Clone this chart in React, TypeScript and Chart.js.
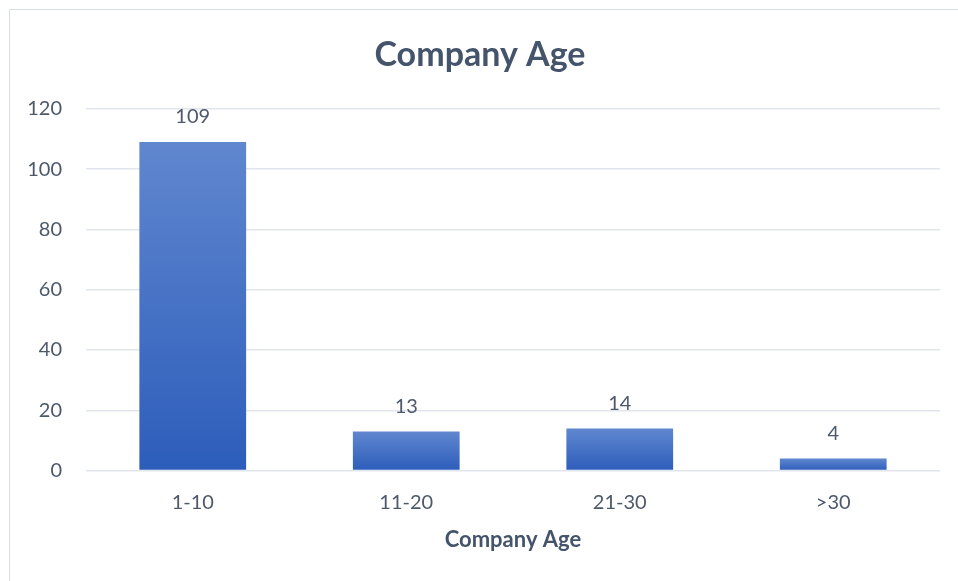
import React, { useEffect, useRef } from "react";
import { Chart, registerables } from "chart.js";

Chart.register(...registerables);

const categories = ["1-10", "11-20", "21-30", ">30"];
const counts = [109, 13, 14, 4];
const yTicks = [0, 20, 40, 60, 80, 100, 120];
const titleText = "Company Age";
const xTitleText = "Company Age";

const FONT = "Lato, 'Open Sans', sans-serif";
const TEXT = "#44546A";
const TICK = "#4D596B";

const dataLabels = {
  id: "dataLabels",
  afterDatasetsDraw(chart: any) {
    const ctx = chart.ctx;
    const meta = chart.getDatasetMeta(0);
    ctx.save();
    ctx.font = `20px ${FONT}`;
    ctx.fillStyle = TICK;
    ctx.textAlign = "center";
    ctx.textBaseline = "middle";
    meta.data.forEach((bar: any, i: number) => {
      ctx.fillText(String(counts[i]), bar.x, bar.y - 25);
    });
    ctx.restore();
  },
};

export default function App() {
  const ref = useRef<HTMLCanvasElement>(null);
  useEffect(() => {
    if (!ref.current) return;
    const chart = new Chart(ref.current, {
      type: "bar",
      data: {
        labels: categories,
        datasets: [
          {
            data: counts,
            barPercentage: 0.5,
            categoryPercentage: 1,
            backgroundColor: (c: any) => {
              const ch = c.chart;
              const ys = ch.scales && ch.scales.y;
              if (!ys || c.type !== "data") return "#4472C4";
              const top = ys.getPixelForValue(c.parsed ? c.parsed.y : counts[c.dataIndex]);
              const bottom = ys.getPixelForValue(0);
              if (!isFinite(top) || !isFinite(bottom) || top === bottom) return "#4472C4";
              const g = ch.ctx.createLinearGradient(0, top, 0, bottom);
              g.addColorStop(0, "#6087CF");
              g.addColorStop(1, "#2D5DBB");
              return g;
            },
          },
        ],
      },
      options: {
        animation: false,
        responsive: false,
        maintainAspectRatio: false,
        layout: { padding: { left: 20, right: 18, top: 10, bottom: 28 } },
        plugins: {
          legend: { display: false },
          tooltip: { enabled: false },
          title: {
            display: true,
            text: titleText,
            color: TEXT,
            font: { family: FONT, size: 34, weight: "bold" },
            padding: { top: 25, bottom: 33 },
          },
        },
        scales: {
          x: {
            grid: { display: false, drawTicks: false },
            border: { display: false },
            ticks: { color: TICK, font: { family: FONT, size: 20 }, padding: 20 },
            title: {
              display: true,
              text: xTitleText,
              color: TEXT,
              font: { family: FONT, size: 22, weight: "bold" },
              padding: { top: -8, bottom: 0 },
            },
          },
          y: {
            min: 0,
            max: 120,
            afterFit: (s: any) => {
              s.width = 66;
            },
            afterBuildTicks: (s: any) => {
              s.ticks = yTicks.map((v) => ({ value: v }));
            },
            grid: { color: "#E1E5EC", lineWidth: 1.5, drawTicks: false },
            border: { display: false },
            ticks: { color: TICK, font: { family: FONT, size: 20 }, padding: 24 },
          },
        },
      },
      plugins: [dataLabels],
    });
    return () => chart.destroy();
  }, []);
  return (
    <div style={{ position: "absolute", left: 0, top: 0, width: 958, height: 581, background: "#fff", overflow: "hidden" }}>
      <div
        style={{
          position: "absolute",
          left: 9,
          top: 9,
          width: 1000,
          height: 1000,
          borderLeft: "1px solid #D9DEE5",
          borderTop: "1px solid #D9DEE5",
          boxSizing: "border-box",
        }}
      />
      <canvas ref={ref} width={958} height={581} style={{ position: "absolute", left: 0, top: 0 }} />
    </div>
  );
}
